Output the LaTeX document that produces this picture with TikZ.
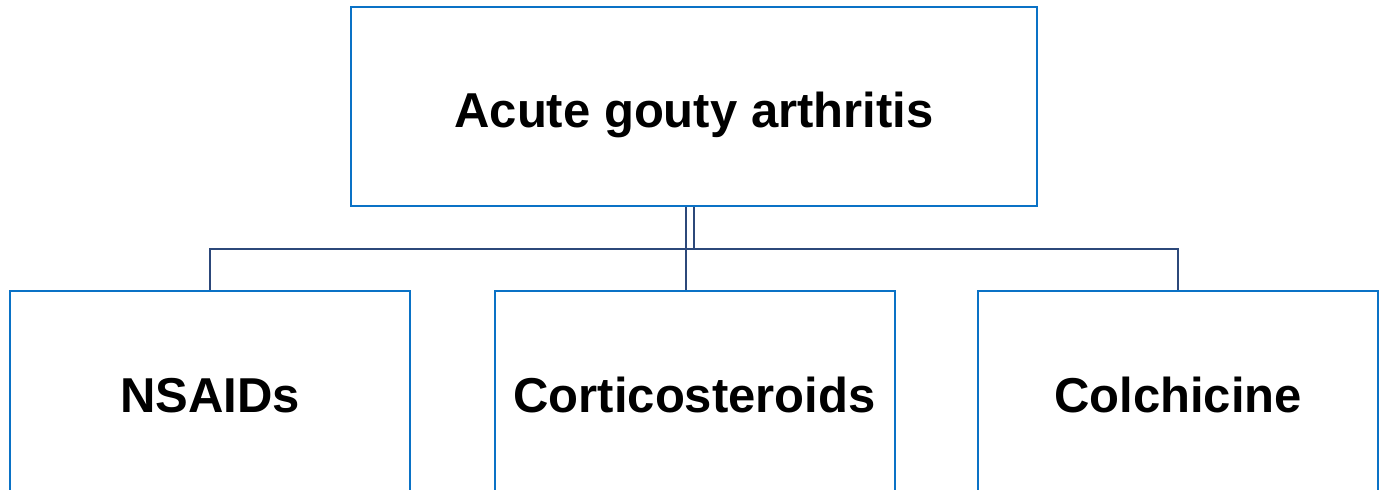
\documentclass[tikz,border=0pt]{standalone}
\usepackage{fontspec}
\setmainfont{Liberation Sans}
\usetikzlibrary{positioning}
\definecolor{boxblue}{RGB}{10,114,198}
\definecolor{linknavy}{RGB}{44,72,122}
\tikzset{
  drugbox/.style={draw=boxblue, line width=1pt, fill=white, minimum width=200pt, minimum height=106pt,
    inner sep=0pt, text height=15pt, text depth=0pt,
    font=\fontsize{24.5}{28}\selectfont\bfseries},
  topbox/.style={drugbox, minimum width=343pt, minimum height=99.5pt, text height=20.5pt},
  link/.style={draw=linknavy, line width=1pt}
}
\begin{document}
\begin{tikzpicture}[x=0.5pt,y=-0.5pt]
			\useasboundingbox (0,0) rectangle (1382,489);
			\clip (0,0) rectangle (1382,489);
			\node[topbox] (gout) at (694,106.5) {Acute gouty arthritis};
			\node[drugbox] (nsaid) at (210,397) {NSAIDs};
			\node[drugbox] (cort) at (694.5,397) {Corticosteroids};
			\node[drugbox] (colch) at (1178,397) {Colchicine};
			\draw[link] (gout.south) -- ++(0,42) coordinate (bus);
			\draw[link] (bus) -| (nsaid.north);
			\draw[link] (bus) -| (colch.north);
			\draw[link] ([xshift=-4pt]gout.south) -- ([xshift=-4pt]gout.south |- cort.north);
		\end{tikzpicture}
\end{document}
